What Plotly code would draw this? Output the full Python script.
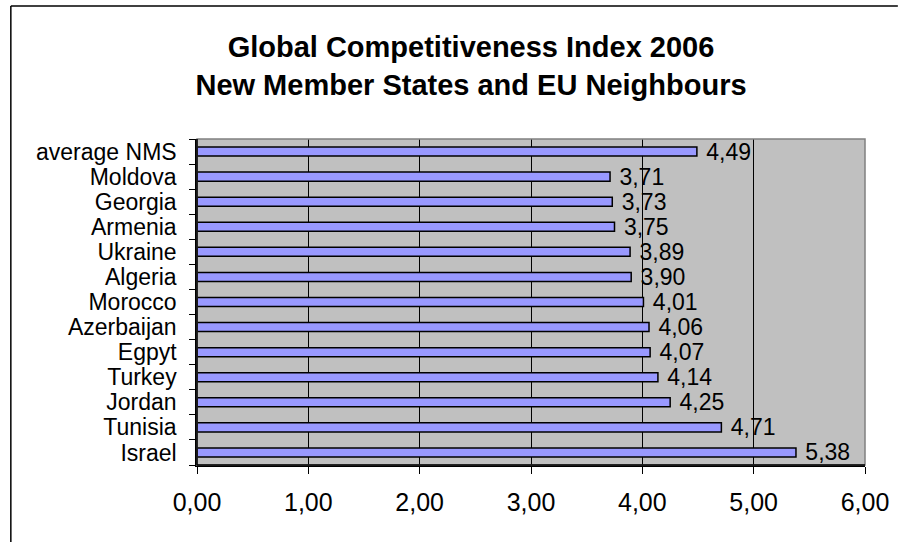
import plotly.graph_objects as go

countries = ["Israel", "Tunisia", "Jordan", "Turkey", "Egpyt", "Azerbaijan",
             "Morocco", "Algeria", "Ukraine", "Armenia", "Georgia", "Moldova",
             "average NMS"]
values = [5.38, 4.71, 4.25, 4.14, 4.07, 4.06, 4.01, 3.90, 3.89, 3.75, 3.73, 3.71, 4.49]
x_ticks = [0, 1, 2, 3, 4, 5, 6]

FONT = "Liberation Sans, Arial, sans-serif"

fig = go.Figure(go.Bar(
    x=values, y=countries, orientation="h",
    width=0.36,
    marker=dict(color="#9999FF", line=dict(color="black", width=1.5)),
    text=values, texttemplate="\u00a0%{x:.2f}", textposition="outside",
    textfont=dict(family=FONT, size=23, color="black"),
    constraintext="none", cliponaxis=False,
))

L, R, T, B = 197, 33, 139, 77
W_PLOT, H_PLOT = 901 - L - R, 542 - T - B
fx = lambda px: (px - L) / W_PLOT
fy = lambda py: (542 - B - py) / H_PLOT

fig.update_layout(
    width=901, height=542,
    margin=dict(l=L, r=R, t=T, b=B, pad=0),
    paper_bgcolor="white", plot_bgcolor="#C0C0C0",
    separators=",.",
    showlegend=False,
    font=dict(family=FONT, color="black"),
    title=dict(
        text="<b>Global Competitiveness Index 2006<br>New Member States and EU Neighbours</b>",
        font=dict(family=FONT, size=29, color="black"),
        x=471/901, xanchor="center", y=1-57/542, yanchor="top",
    ),
    xaxis=dict(
        range=[0, 6], tickvals=x_ticks, tickformat=".2f",
        showgrid=True, gridcolor="black", gridwidth=1,
        showline=True, linecolor="black", linewidth=1.5,
        ticks="outside", ticklen=7, tickcolor="black",
        tickfont=dict(family=FONT, size=25, color="black"),
        ticklabelstandoff=7, zeroline=False, fixedrange=True,
    ),
    yaxis=dict(
        type="category", tickson="boundaries",
        tickmode="array", tickvals=countries, ticktext=countries,
        showgrid=False, showline=True, linecolor="black", linewidth=1.5,
        ticks="outside", ticklen=6, tickcolor="black",
        tickfont=dict(family=FONT, size=23, color="black"),
        ticklabelstandoff=14, fixedrange=True,
    ),
    shapes=[
        dict(type="rect", xref="paper", yref="paper", x0=0, x1=1, y0=0, y1=1,
             line=dict(color="#808080", width=1.5), layer="above"),
        dict(type="line", xref="paper", yref="paper",
             x0=fx(10), x1=fx(10), y0=fy(600), y1=fy(6),
             line=dict(color="black", width=1.5)),
        dict(type="line", xref="paper", yref="paper",
             x0=fx(10), x1=fx(901), y0=fy(6), y1=fy(6),
             line=dict(color="black", width=1.5)),
    ],
)
fig.add_shape(type="line", xref="paper", yref="paper", x0=0, x1=1, y0=0, y1=0,
              line=dict(color="black", width=1.5), layer="above")
fig.add_shape(type="line", xref="paper", yref="paper", x0=0, x1=0, y0=0, y1=1,
              line=dict(color="black", width=1.5), layer="above")

fig.write_html("out.html", config={"displayModeBar": False},
               post_script="document.body.style.margin='0';document.body.style.overflow='hidden';")
